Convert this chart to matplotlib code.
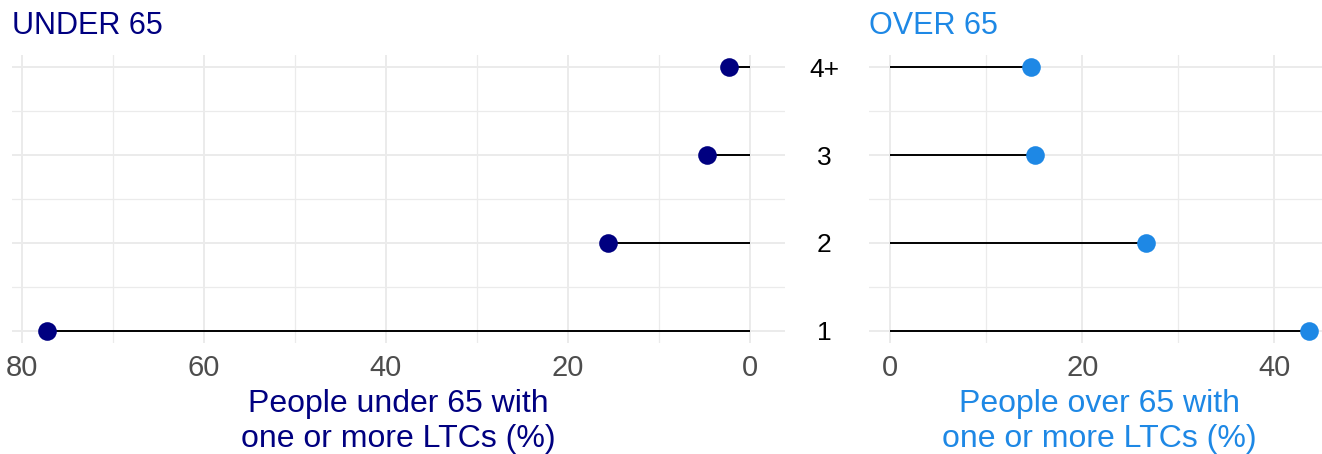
import matplotlib
matplotlib.use("Agg")
import matplotlib.pyplot as plt
from matplotlib.transforms import blended_transform_factory
from matplotlib.ticker import MultipleLocator

plt.rcParams['font.family'] = ['Liberation Sans', 'DejaVu Sans']

categories = ["1", "2", "3", "4+"]
under65 = [77.2, 15.6, 4.7, 2.3]
over65 = [43.6, 26.6, 15.1, 14.7]

NAVY = "#000080"
BLUE = "#1E88E5"
GRID = "#EBEBEB"
TICK = "#4D4D4D"

W, H = 1322, 454
fig = plt.figure(figsize=(W / 100, H / 100), dpi=100)

def px_axes(x0, x1, y0, y1):
    return fig.add_axes([x0 / W, 1 - y1 / H, (x1 - x0) / W, (y1 - y0) / H])

top, bottom = 55, 343
ax1 = px_axes(12, 785, top, bottom)
ax2 = px_axes(869, 1330, top, bottom)

ypos = list(range(1, len(categories) + 1))
yexp = 12 / 88.0

def style(ax, xmin, xmax, major, minor):
    ax.set_xlim(xmin, xmax)
    ax.set_ylim(1 - yexp, len(categories) + yexp)
    ax.xaxis.set_major_locator(MultipleLocator(major))
    ax.xaxis.set_minor_locator(MultipleLocator(minor))
    ax.set_yticks(ypos)
    ax.set_yticks([1.5, 2.5, 3.5], minor=True)
    ax.grid(True, which='major', color=GRID, lw=1.4)
    ax.grid(True, which='minor', color=GRID, lw=0.9)
    ax.set_axisbelow(True)
    for s in ax.spines.values():
        s.set_visible(False)
    ax.tick_params(axis='both', which='both', length=0)
    ax.tick_params(axis='x', labelsize=21, labelcolor=TICK, pad=8)
    ax.set_yticklabels([])

style(ax1, 81.06, -3.86, 20, 10)
style(ax2, -2.18, 45.78, 20, 10)

ax1.hlines(ypos, 0, under65, color='black', lw=1.4, zorder=2)
ax1.scatter(under65, ypos, s=180, color=NAVY, zorder=3, linewidths=0)
ax2.hlines(ypos, 0, over65, color='black', lw=1.4, zorder=2)
ax2.scatter(over65, ypos, s=180, color=BLUE, zorder=3, linewidths=0)

# category labels between panels
tr = blended_transform_factory(fig.transFigure, ax2.transData)
for y, c in zip(ypos, categories):
    fig.text(824 / W, y, c, transform=tr, ha='center', va='center_baseline', fontsize=19, color='black')

# titles
fig.text(12 / W, 1 - 34 / H, "UNDER 65", color=NAVY, fontsize=22, ha='left', va='baseline')
fig.text(869 / W, 1 - 34 / H, "OVER 65", color=BLUE, fontsize=22, ha='left', va='baseline')

# axis titles
ax1.set_xlabel("People under 65 with\none or more LTCs (%)", color=NAVY, fontsize=23, labelpad=5, linespacing=1.2)
ax2.set_xlabel("People over 65 with\none or more LTCs (%)", color=BLUE, fontsize=23, labelpad=5, linespacing=1.2)

fig.savefig("out.png", dpi=100)
